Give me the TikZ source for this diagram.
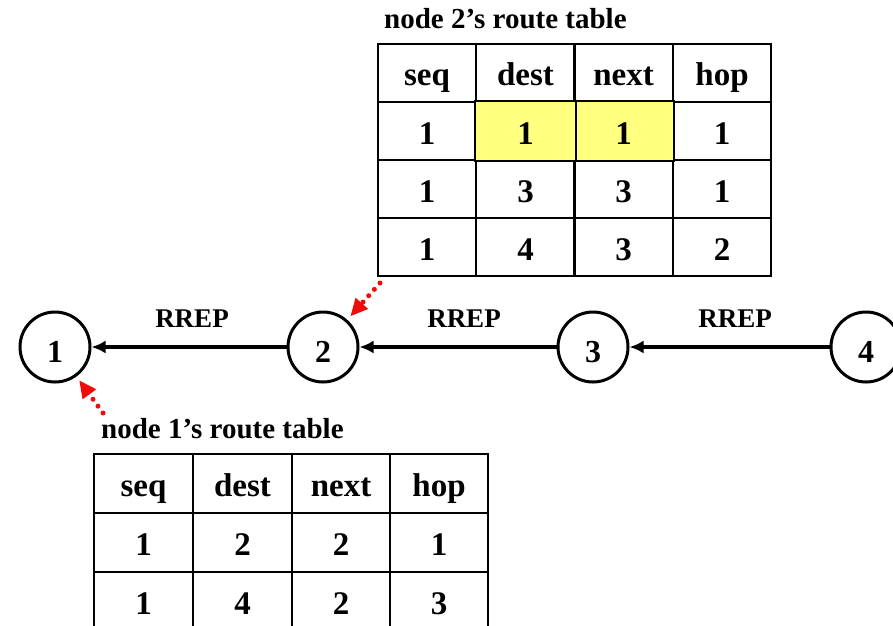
\documentclass[tikz,border=0pt]{standalone}
\usepackage{fontspec}
\setmainfont{Liberation Serif}
\usetikzlibrary{arrows.meta}
\newcommand{\wtxt}[2]{{\fontsize{#1}{#1}\selectfont\bfseries #2}}
\definecolor{hilite}{RGB}{255,255,128}
\definecolor{redarrow}{RGB}{240,10,10}
\tikzset{
  cell/.style={draw=black, line width=2pt, inner sep=0pt, minimum width=98.5pt, minimum height=#1, anchor=center},
  netnode/.style={circle, draw=black, line width=3pt, minimum size=70pt, inner sep=0pt},
  msg/.style={line width=3.5pt, -{Latex[length=14pt,width=13pt]}},
  pointer/.style={draw=redarrow, line width=5pt, line cap=round, dash pattern=on 0pt off 8.5pt, shorten >=5pt, -{Triangle[length=17pt,width=17pt,fill=redarrow,line width=0pt,sep=0pt]}},
  lbl/.style={inner sep=0pt, anchor=base}
}
\begin{document}
\begin{tikzpicture}[x=1pt,y=-1pt]
\useasboundingbox (0,0) rectangle (893,625);
\clip (0,0) rectangle (893,625);
% table 2
\node[lbl, anchor=base west] (title2) at (384,28) {\wtxt{29}{node 2’s route table}};
\foreach \r/\y in {1/73,2/131,3/189,4/247}{
  \foreach \c/\x in {1/427,2/525.5,3/623.5,4/722}{
    \node[cell=58pt] (t2-\r-\c) at (\x,\y) {};
  }
}
\fill[hilite] (t2-2-2.north west) rectangle (t2-2-3.south east);
\draw[line width=2pt] (t2-2-2.north west) rectangle (t2-2-3.south east);
\draw[line width=2pt] (t2-2-2.north east) -- (t2-2-2.south east);
\foreach \c/\t in {1/seq,2/dest,3/next,4/hop}{\node[lbl] (h2-\c) at ([yshift=-12.5pt]t2-1-\c.center) {\wtxt{33}{\t}};}
\foreach \r/\a/\b/\cc/\d in {2/1/1/1/1,3/1/3/3/1,4/1/4/3/2}{
  \node[lbl] (v2-\r-1) at ([yshift=-13pt]t2-\r-1.center) {\wtxt{33}{\a}};
  \node[lbl] (v2-\r-2) at ([yshift=-13pt]t2-\r-2.center) {\wtxt{33}{\b}};
  \node[lbl] (v2-\r-3) at ([yshift=-13pt]t2-\r-3.center) {\wtxt{33}{\cc}};
  \node[lbl] (v2-\r-4) at ([yshift=-13pt]t2-\r-4.center) {\wtxt{33}{\d}};
}
% table 1
\node[lbl, anchor=base west] (title1) at (101,438) {\wtxt{29}{node 1’s route table}};
\foreach \r/\y in {1/483.5,2/542.5,3/601.5}{
  \foreach \c/\x in {1/143.5,2/242.5,3/341,4/439}{
    \node[cell=59pt] (t1-\r-\c) at (\x,\y) {};
  }
}
\foreach \c/\t in {1/seq,2/dest,3/next,4/hop}{\node[lbl] (h1-\c) at ([yshift=-12.5pt]t1-1-\c.center) {\wtxt{33}{\t}};}
\foreach \r/\a/\b/\cc/\d in {2/1/2/2/1,3/1/4/2/3}{
  \node[lbl] (v1-\r-1) at ([yshift=-13pt]t1-\r-1.center) {\wtxt{33}{\a}};
  \node[lbl] (v1-\r-2) at ([yshift=-13pt]t1-\r-2.center) {\wtxt{33}{\b}};
  \node[lbl] (v1-\r-3) at ([yshift=-13pt]t1-\r-3.center) {\wtxt{33}{\cc}};
  \node[lbl] (v1-\r-4) at ([yshift=-13pt]t1-\r-4.center) {\wtxt{33}{\d}};
}
% network nodes
\node[netnode] (n1) at (55,347) {};
\node[netnode] (n2) at (323,347) {};
\node[netnode] (n3) at (593,347) {};
\node[netnode] (n4) at (866,347) {};
\foreach \n in {1,2,3,4}{\node[lbl] (d\n) at ([yshift=-15pt]n\n.center) {\wtxt{32}{\n}};}
\draw[msg] (n2) -- (n1);
\draw[msg] (n3) -- (n2);
\draw[msg] (n4) -- (n3);
\node[lbl] (l12) at (192,327) {\wtxt{27}{RREP}};
\node[lbl] (l23) at (464,327) {\wtxt{27}{RREP}};
\node[lbl] (l34) at (735,327) {\wtxt{27}{RREP}};
% pointers
\coordinate (p2) at (380,283);
\coordinate (p1) at (103,413);
\draw[pointer] (p2) -- (n2);
\draw[pointer] (p1) -- (n1);
\end{tikzpicture}
\end{document}
